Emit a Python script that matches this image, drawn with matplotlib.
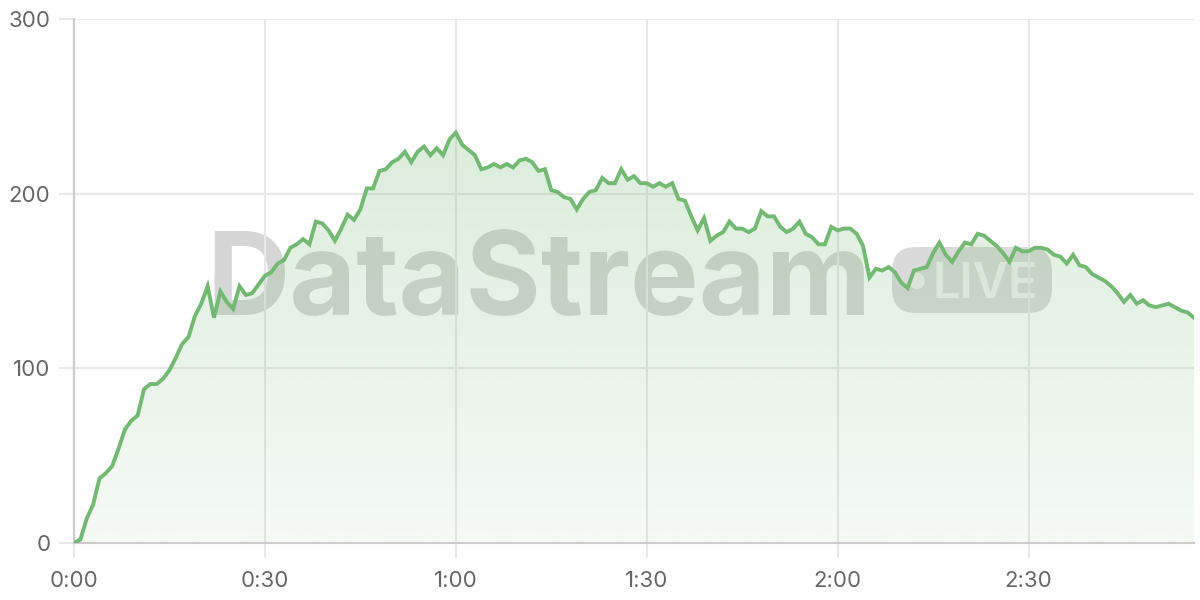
import matplotlib
matplotlib.use("Agg")
import matplotlib.pyplot as plt
import numpy as np
from matplotlib.patches import PathPatch, FancyBboxPatch, Circle
from matplotlib.ticker import FuncFormatter, MultipleLocator

# viewers per second over the stream (seconds 0..176)
seconds = np.arange(177)
viewers = [
    0, 2, 14, 22, 37, 40, 44, 54, 65, 70,
    73, 88, 91, 91, 94, 99, 106, 114, 118, 130,
    137, 147, 129, 144, 138, 134, 147, 142, 143, 148,
    153, 155, 160, 162, 169, 171, 174, 171, 184, 183,
    179, 173, 180, 188, 185, 191, 203, 203, 213, 214,
    218, 220, 224, 218, 224, 227, 222, 226, 222, 231,
    235, 228, 225, 222, 214, 215, 217, 215, 217, 215,
    219, 220, 218, 213, 214, 202, 201, 198, 197, 191,
    197, 201, 202, 209, 206, 206, 214, 208, 210, 206,
    206, 204, 206, 204, 206, 197, 196, 187, 179, 186,
    173, 176, 178, 184, 180, 180, 178, 180, 190, 187,
    187, 181, 178, 180, 184, 177, 175, 171, 171, 181,
    179, 180, 180, 177, 170, 152, 157, 156, 158, 155,
    149, 146, 156, 157, 158, 166, 172, 165, 161, 167,
    172, 171, 177, 176, 173, 170, 166, 161, 169, 167,
    167, 169, 169, 168, 165, 164, 160, 165, 159, 158,
    154, 152, 150, 147, 143, 138, 142, 137, 139, 136,
    135, 136, 137, 135, 133, 132, 129,
]
y_ticks = [0, 100, 200, 300]

line_color = "#73b973"
grid_color = "#e8e8e8"
axis_color = "#cccccc"
label_color = "#666666"

plt.rcParams["font.family"] = ["Inter", "DejaVu Sans"]

fig = plt.figure(figsize=(12, 6), dpi=100)

# watermark layer, pixel coordinates
wm = fig.add_axes([0, 0, 1, 1], zorder=0)
wm.set_xlim(0, 1200)
wm.set_ylim(600, 0)
wm.axis("off")
wm.text(206, 315, "DataStream", fontsize=83, fontweight="bold", color="#7a7a7a",
        alpha=0.3, ha="left", va="baseline")
box = FancyBboxPatch((892, 247), 160, 66, boxstyle="round,pad=0,rounding_size=24",
                     facecolor="#7a7a7a", alpha=0.28, edgecolor="none")
wm.add_patch(box)
wm.add_patch(Circle((917, 281), 8, facecolor="white", alpha=0.6, edgecolor="none"))
wm.text(985, 298, "LIVE", fontsize=35, fontweight="semibold", color="white", alpha=0.65,
        ha="center", va="baseline")

ax = fig.add_axes([74 / 1200, 57 / 600, 1120 / 1200, 524 / 600], zorder=1)
ax.set_facecolor("none")

# gradient area under the line
fill = ax.fill_between(seconds, viewers, color="none", linewidth=0)
clip = PathPatch(fill.get_paths()[0], transform=ax.transData, facecolor="none", edgecolor="none")
ax.add_patch(clip)
grad = np.zeros((256, 1, 4))
grad[:, 0, :3] = matplotlib.colors.to_rgb(line_color)
grad[:, 0, 3] = np.linspace(0.26, 0.07, 256)
im = ax.imshow(grad, aspect="auto", extent=[0, seconds[-1], 0, max(viewers)],
               origin="upper", zorder=1)
im.set_clip_path(clip)

ax.plot(seconds, viewers, color=line_color, linewidth=2.8, zorder=3,
        solid_joinstyle="miter")

ax.set_xlim(0, seconds[-1])
ax.set_ylim(0, 300)
ax.set_yticks(y_ticks)
ax.xaxis.set_major_locator(MultipleLocator(30))
ax.xaxis.set_major_formatter(FuncFormatter(lambda v, p: "%d:%02d" % (v // 60, v % 60)))

ax.grid(True, color=grid_color, linewidth=1.5, zorder=0)
ax.set_axisbelow(True)
for s in ["top", "right"]:
    ax.spines[s].set_visible(False)
for s in ["left", "bottom"]:
    ax.spines[s].set_color(axis_color)
    ax.spines[s].set_linewidth(1.5)
ax.tick_params(axis="both", length=11, width=1.5, color=grid_color,
               labelcolor=label_color, labelsize=16, pad=6)
ax.tick_params(axis="x", pad=9)

fig.savefig("out.png", dpi=100)
